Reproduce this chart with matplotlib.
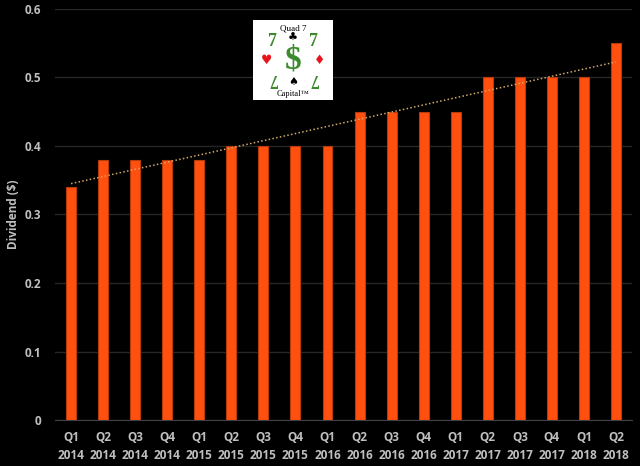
import numpy as np
import matplotlib
matplotlib.use("Agg")
import matplotlib.pyplot as plt

# ---------------------------------------------------------------------------
# Data
# ---------------------------------------------------------------------------
quarters = ["Q1", "Q2", "Q3", "Q4", "Q1", "Q2", "Q3", "Q4", "Q1",
            "Q2", "Q3", "Q4", "Q1", "Q2", "Q3", "Q4", "Q1", "Q2"]
years = ["2014", "2014", "2014", "2014", "2015", "2015", "2015", "2015", "2016",
         "2016", "2016", "2016", "2017", "2017", "2017", "2017", "2018", "2018"]
dividends = [0.34, 0.38, 0.38, 0.38, 0.38, 0.40, 0.40, 0.40, 0.40,
             0.45, 0.45, 0.45, 0.45, 0.50, 0.50, 0.50, 0.50, 0.55]

BG = "#000000"
BAR = "#FF5010"
TEXT = "#BFBFBF"

plt.rcParams["font.family"] = ["Open Sans", "DejaVu Sans"]

fig = plt.figure(figsize=(6.4, 4.66), dpi=100, facecolor=BG)
ax = fig.add_axes([0.086, 0.0987, 0.9015, 0.882], facecolor=BG)

x = np.arange(len(dividends))
ax.bar(x, dividends, width=0.31, color=BAR, edgecolor="#B83A08", linewidth=0.8, zorder=3)

# linear trend line
slope, icept = np.polyfit(x, dividends, 1)
ax.plot(x, slope * x + icept, linestyle=(0, (1, 1.5)), color="#D0A868",
        linewidth=1.1, zorder=4)

ax.set_xlim(-0.5, 17.5)
ax.set_ylim(0, 0.6)
ax.set_yticks(np.arange(0, 0.61, 0.1))
ax.set_yticklabels(["0", "0.1", "0.2", "0.3", "0.4", "0.5", "0.6"])
ax.set_xticks(x)
ax.set_xticklabels([f"{q}\n{y}" for q, y in zip(quarters, years)], linespacing=1.5)

ax.grid(axis="y", color="#262626", linewidth=1.0, zorder=0)
for side in ["top", "right", "left"]:
    ax.spines[side].set_visible(False)
ax.spines["bottom"].set_color("#404040")
ax.tick_params(axis="both", length=0, colors=TEXT, labelsize=8.5)
ax.tick_params(axis="x", pad=8)
ax.tick_params(axis="y", pad=10)
for lbl in ax.get_xticklabels() + ax.get_yticklabels():
    lbl.set_fontweight("bold")

ax.set_ylabel("Dividend ($)", color=TEXT, fontsize=8.5, fontweight="bold", labelpad=3)

# ── Logo card ───────────────────────────────────────────────────────────────
logo = fig.add_axes([253 / 640, 1 - 100 / 466, 80 / 640, 80 / 466], facecolor="white")
logo.set_xlim(0, 1)
logo.set_ylim(0, 1)
logo.set_xticks([])
logo.set_yticks([])
for s in logo.spines.values():
    s.set_visible(False)
serif = ["Liberation Serif", "DejaVu Serif"]
green = "#3C8A2E"
red = "#E8141C"
logo.text(0.5, 0.90, "Quad 7", ha="center", va="center", fontsize=6.5, family=serif, color="black")
logo.text(0.5, 0.77, "\u2663", ha="center", va="center", fontsize=8, family="DejaVu Sans", color="black")
logo.text(0.24, 0.73, "7", ha="center", va="center", fontsize=13, family=serif, color=green, fontweight="bold")
logo.text(0.76, 0.73, "7", ha="center", va="center", fontsize=13, family=serif, color=green, fontweight="bold")
logo.text(0.5, 0.50, "$", ha="center", va="center", fontsize=24, family=serif, color=green, fontweight="bold")
logo.text(0.17, 0.50, "\u2665", ha="center", va="center", fontsize=9, family="DejaVu Sans", color=red)
logo.text(0.83, 0.50, "\u2666", ha="center", va="center", fontsize=9, family="DejaVu Sans", color=red)
logo.text(0.24, 0.27, "7", ha="center", va="center", fontsize=13, family=serif, color=green,
          fontweight="bold", rotation=180)
logo.text(0.76, 0.27, "7", ha="center", va="center", fontsize=13, family=serif, color=green,
          fontweight="bold", rotation=180)
logo.text(0.5, 0.22, "\u2660", ha="center", va="center", fontsize=8, family="DejaVu Sans", color="black")
logo.text(0.5, 0.08, "Capital\u2122", ha="center", va="center", fontsize=6, family=serif, color="black")

fig.savefig("out.png", dpi=100, facecolor=BG)
